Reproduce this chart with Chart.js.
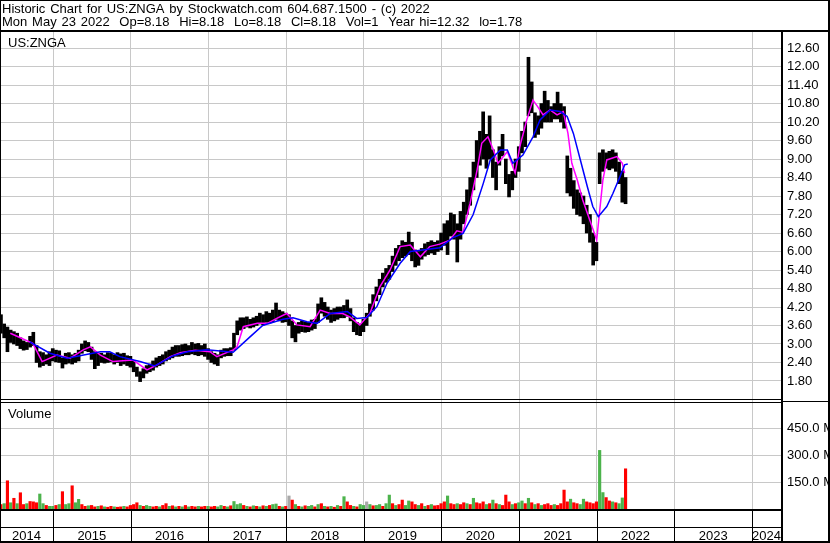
<!DOCTYPE html>
<html>
<head>
<meta charset="utf-8">
<title>Historic Chart for US:ZNGA</title>
<script src="https://cdn.jsdelivr.net/npm/chart.js@4.4.1/dist/chart.umd.min.js"></script>
<style>
html,body{margin:0;padding:0;background:#fff;}
canvas{display:block;}
</style>
</head>
<body>
<canvas id="chart" width="830" height="543"></canvas>
<script>

// HEADER

const titleLine1 = "Historic Chart for US:ZNGA by Stockwatch.com 604.687.1500 - (c) 2022";
const titleLine2 = "Mon May 23 2022  Op=8.18  Hi=8.18  Lo=8.18  Cl=8.18  Vol=1  Year hi=12.32  lo=1.78";
const symbolLabel = "US:ZNGA";
const volumeLabel = "Volume";

// AXES

const years = [2014,2015,2016,2017,2018,2019,2020,2021,2022,2023,2024];
const priceTicks = [1.8,2.4,3.0,3.6,4.2,4.8,5.4,6.0,6.6,7.2,7.8,8.4,9.0,9.6,10.2,10.8,11.4,12.0,12.6];
const volumeTicks = [150,300,450];

// PRICE BARS (one per half month, from late April 2014)

const barStart = 2014.33;
const barStep = 1/24;

const highs = [
3.95,3.65,3.55,3.45,3.40,3.35,3.20,3.10,3.05,3.25,
3.38,2.95,2.75,2.72,2.65,2.75,2.85,2.80,2.78,2.55,
2.70,2.72,2.65,2.70,2.80,3.00,3.10,3.05,2.90,2.75,
2.70,2.70,2.65,2.72,2.70,2.65,2.72,2.68,2.70,2.62,
2.60,2.45,2.25,2.10,2.20,2.30,2.35,2.45,2.55,2.60,
2.65,2.75,2.80,2.90,2.95,2.95,2.98,3.00,2.95,3.05,
3.00,3.02,2.95,3.00,2.85,2.75,2.70,2.65,2.80,2.85,
2.85,2.88,3.35,3.75,3.85,3.85,3.88,3.80,3.85,3.90,
4.00,3.95,4.05,4.00,4.10,4.33,4.10,4.05,4.00,3.95,
3.75,3.60,3.70,3.75,3.72,3.70,3.78,3.80,4.30,4.50,
4.35,4.20,4.10,4.15,4.20,4.20,4.25,4.43,4.15,3.85,
3.70,3.65,3.80,4.00,4.30,4.60,4.85,5.10,5.30,5.45,
5.55,5.85,6.10,6.20,6.35,6.30,6.63,6.30,6.05,6.00,
6.10,6.25,6.30,6.35,6.30,6.35,6.60,6.90,7.00,7.25,
7.20,6.90,7.30,7.60,8.00,8.40,8.90,9.60,9.90,10.53,
9.80,10.40,9.30,8.90,9.40,9.80,9.00,8.50,8.60,9.00,
9.40,9.90,10.20,12.30,11.50,10.50,10.40,10.80,11.20,10.90,
10.70,10.80,11.17,10.80,10.70,9.10,8.70,8.30,8.00,7.90,
7.80,7.50,7.20,6.60,6.30,9.20,9.30,9.20,9.25,9.30,
9.20,8.90,8.60,8.40
];

const lows = [
3.35,3.20,2.75,3.05,3.00,2.95,2.85,2.80,2.82,2.90,
2.95,2.40,2.25,2.30,2.35,2.30,2.45,2.42,2.40,2.22,
2.35,2.38,2.35,2.40,2.45,2.70,2.78,2.75,2.50,2.20,
2.30,2.40,2.38,2.40,2.42,2.35,2.40,2.30,2.35,2.30,
2.25,2.10,1.95,1.78,1.90,2.05,2.10,2.15,2.25,2.30,
2.35,2.45,2.50,2.55,2.60,2.60,2.62,2.65,2.65,2.68,
2.65,2.62,2.65,2.60,2.50,2.40,2.35,2.30,2.55,2.60,
2.62,2.62,2.80,3.30,3.45,3.50,3.55,3.52,3.55,3.60,
3.65,3.62,3.70,3.68,3.72,3.80,3.75,3.70,3.72,3.60,
3.20,3.07,3.35,3.40,3.38,3.40,3.45,3.50,3.70,4.00,
3.90,3.80,3.70,3.75,3.80,3.85,3.85,3.90,3.75,3.40,
3.30,3.27,3.40,3.60,3.90,4.10,4.40,4.60,4.85,5.00,
5.10,5.35,5.55,5.70,5.80,5.85,5.90,5.70,5.50,5.55,
5.75,5.85,5.90,5.95,5.90,6.00,6.05,6.20,5.90,6.50,
6.40,5.66,6.40,6.90,7.20,7.50,8.00,8.40,8.80,9.00,
8.70,9.00,8.40,8.00,8.80,9.10,8.20,7.77,8.00,8.40,
8.60,9.20,9.40,10.40,10.50,9.70,9.80,10.00,10.20,10.20,
10.20,10.30,10.30,10.20,10.00,7.90,7.80,7.40,7.20,7.15,
6.90,6.60,6.30,5.56,5.70,8.20,8.60,8.70,8.65,8.70,
8.60,8.20,7.60,7.55
];

// VOLUME (millions) and direction: r = down, g = up, n = unchanged

const volumes = [
25,30,158,35,60,30,91,25,30,42,40,35,84,30,20,15,
15,20,25,97,25,30,130,35,54,25,15,18,20,12,15,18,12,10,15,12,10,12,15,12,
20,25,35,20,15,20,15,12,15,12,20,30,15,18,12,15,12,20,12,15,12,15,12,15,
15,12,15,12,20,15,12,18,42,25,30,20,15,12,18,15,12,18,15,20,25,28,15,12,
15,73,50,25,15,12,18,15,20,12,25,30,15,12,15,10,20,15,69,40,20,15,12,25,
20,40,25,18,20,25,15,30,78,30,20,25,50,20,45,40,25,20,30,15,20,25,18,20,
30,40,73,30,25,30,25,35,30,25,60,35,30,40,25,30,50,30,25,20,78,40,25,30,
35,45,30,60,35,25,30,20,25,30,20,25,20,30,106,40,55,35,30,25,55,40,35,30,
40,328,92,64,45,40,35,30,62,225
];

const volumeDir = (
"rgrgrgrrgrrrggrg" +
"grgrggrggrrgrrgrgrrgrrgr" +
"rrrgrggrrgrrgrgrgrgrrgrr" +
"grrggrgrgggrgrgrgrgrggrg" +
"rnrgrgrggrgrgrgrgrgrrgrg" +
"gngrggrggrgrrggrrgrgrgrr" +
"rrgrrgrrgrgrrrgrgrgrrrgr" +
"ggrgrgrgrrrgrrrrgrrggrrr" +
"rggrrgrggr"
).split("");

// MOVING AVERAGES

const fastDates = [2014.45,2014.74,2014.86,2015.05,2015.22,2015.39,2015.48,2015.61,2015.77,2016.03,
2016.21,2016.34,2016.51,2016.64,2016.83,2017.02,2017.11,2017.32,2017.37,2017.45,
2017.63,2017.76,2017.88,2018.01,2018.14,2018.31,2018.44,2018.57,2018.73,2018.82,
2018.95,2019.08,2019.21,2019.34,2019.47,2019.60,2019.73,2019.85,2019.98,2020.11,
2020.20,2020.28,2020.37,2020.46,2020.52,2020.60,2020.67,2020.73,2020.85,2020.95,
2021.01,2021.10,2021.18,2021.24,2021.31,2021.40,2021.49,2021.57,2021.63,2021.68,
2021.75,2021.82,2021.94,2022.00,2022.04,2022.08,2022.13,2022.26,2022.33,2022.36];
const fastValues = [3.35,3.02,2.43,2.64,2.54,2.81,2.91,2.64,2.43,2.48,
2.16,2.32,2.59,2.72,2.80,2.75,2.59,2.81,2.91,3.56,
3.67,3.67,3.83,3.99,3.62,3.56,4.10,3.99,3.99,3.88,
3.62,3.99,4.86,5.40,6.16,6.21,5.83,6.16,6.24,6.37,
6.67,6.62,7.56,8.64,9.51,9.72,9.29,8.86,9.24,8.54,
9.40,10.27,10.91,10.70,10.43,10.59,10.43,10.54,9.83,8.86,
8.32,7.67,6.81,6.37,7.35,8.32,8.97,9.08,8.86,8.54];

const slowDates = [2014.70,2014.96,2015.18,2015.61,2015.73,2015.86,2016.12,2016.31,2016.55,2016.73,
2016.98,2017.32,2017.54,2017.70,2017.96,2018.09,2018.27,2018.40,2018.57,2018.79,
2018.91,2019.04,2019.17,2019.30,2019.47,2019.60,2019.76,2019.98,2020.15,2020.28,
2020.41,2020.54,2020.63,2020.76,2020.85,2020.92,2021.05,2021.18,2021.27,2021.40,
2021.53,2021.62,2021.70,2021.79,2021.88,2021.95,2022.02,2022.13,2022.21,2022.30,
2022.36,2022.40];
const slowValues = [3.07,2.70,2.54,2.75,2.75,2.59,2.43,2.29,2.62,2.75,
2.81,2.73,3.24,3.60,3.80,3.85,3.72,3.67,3.99,4.05,
3.83,3.86,4.21,4.97,5.62,6.00,6.05,6.12,6.45,6.59,
7.20,8.21,8.97,9.29,9.29,8.86,9.13,9.72,10.27,10.59,
10.54,10.38,9.83,8.97,8.10,7.46,7.13,7.46,7.89,8.43,
8.81,8.84];

// BUILD DATA

const barDates = highs.map((h,i) => barStart + i*barStep);
const priceData = barDates.map((t,i) => ({x:t, y:[lows[i], highs[i]]}));
const volumeData = barDates.map((t,i) => ({x:t, y:volumes[i]}));
const dirColors = {r:"#ff0000", g:"#4cb34c", n:"#a8a8a8"};
const volumeColors = volumeDir.map(d => dirColors[d]);
const fastData = fastDates.map((t,i) => ({x:t, y:fastValues[i]}));
const slowData = slowDates.map((t,i) => ({x:t, y:slowValues[i]}));

const FONT = '13px "Liberation Sans", Arial, sans-serif';
const GRID = "#c8c8c8";

// FRAME AND TEXT

const framePlugin = {
id:"frame",
beforeDraw(chart){
const ctx = chart.ctx;
ctx.save();
ctx.fillStyle = "#fff";
ctx.fillRect(0,0,chart.width,chart.height);
ctx.restore();
},
afterDraw(chart){
const ctx = chart.ctx;
const area = chart.chartArea;
const xs = chart.scales.x;
const vs = chart.scales.v;
ctx.save();
ctx.fillStyle = "#000";
ctx.font = FONT;

// volume labels (clipped by the right border)
ctx.textAlign = "left";
ctx.textBaseline = "middle";
volumeTicks.forEach(v => {
ctx.fillText(v.toFixed(1) + " M", area.right + 5, vs.getPixelForValue(v));
});

// borders
ctx.fillRect(0,0,830,1);
ctx.fillRect(0,0,1,543);
ctx.fillRect(828,0,2,543);
ctx.fillRect(0,541,830,2);
ctx.fillRect(0,30,830,2);
ctx.fillRect(781,32,2,511);

// panel separators
ctx.fillRect(0,399,781,1);
ctx.fillRect(0,402,781,1);
ctx.fillRect(783,401,45,1);
ctx.fillRect(0,509,781,2);
ctx.fillRect(0,527,781,1);

// year cells
ctx.textAlign = "center";
ctx.textBaseline = "alphabetic";
for(let i=0;i<years.length;i++){
let left = i === 0 ? area.left : xs.getPixelForValue(years[i]);
let right = i === years.length-1 ? area.right-1 : xs.getPixelForValue(years[i]+1);
if(i > 0){
ctx.fillRect(Math.round(left),511,1,30);
}
ctx.fillText(String(years[i]), (left+right)/2, 540);
}

// titles
ctx.textAlign = "left";
ctx.wordSpacing = "1.2px";
ctx.fillText(titleLine1, 2, 13);
ctx.fillText(titleLine2, 2, 26);
ctx.wordSpacing = "0px";
ctx.fillText(symbolLabel, 8, 47);
ctx.fillText(volumeLabel, 8, 418);

ctx.restore();
}
};

// CHART

new Chart(
document.getElementById("chart"),
{
type:"bar",
data:{
datasets:[
{
type:"line",
data:fastData,
yAxisID:"y",
borderColor:"#ff00ff",
borderWidth:1.5,
pointRadius:0,
order:1
},
{
type:"line",
data:slowData,
yAxisID:"y",
borderColor:"#0000ff",
borderWidth:1.5,
pointRadius:0,
order:0
},
{
type:"bar",
data:priceData,
yAxisID:"y",
backgroundColor:"#000",
barThickness:3,
grouped:false,
order:2
},
{
type:"bar",
data:volumeData,
yAxisID:"v",
backgroundColor:volumeColors,
barThickness:2.5,
grouped:false,
order:3
}
]
},
options:{
responsive:false,
devicePixelRatio:1,
animation:false,
layout:{padding:{top:32,left:0,right:0,bottom:34}},
plugins:{legend:{display:false},tooltip:{enabled:false}},
scales:{
x:{
type:"linear",
min:2014.3176,
max:2024.386,
offset:false,
afterBuildTicks:s => { s.ticks = years.slice(1).map(v => ({value:v})); },
afterFit:s => { s.height = 0; },
ticks:{display:false},
grid:{color:GRID, drawTicks:false, offset:false},
border:{display:false}
},
y:{
type:"linear",
position:"right",
min:-2.352,
max:13.12,
afterBuildTicks:s => { s.ticks = priceTicks.map(v => ({value:v})); },
afterFit:s => { s.width = 48; },
ticks:{
autoSkip:false,
padding:5,
color:"#000",
font:{family:'"Liberation Sans", Arial, sans-serif', size:13},
callback:v => v.toFixed(2)
},
grid:{color:GRID, drawTicks:false},
border:{display:false}
},
v:{
type:"linear",
position:"right",
min:0,
max:2670,
afterBuildTicks:s => { s.ticks = volumeTicks.map(v => ({value:v})); },
afterFit:s => { s.width = 0; },
ticks:{display:false},
grid:{color:GRID, drawTicks:false},
border:{display:false}
}
}
},
plugins:[framePlugin]
}
);

</script>
</body>
</html>
